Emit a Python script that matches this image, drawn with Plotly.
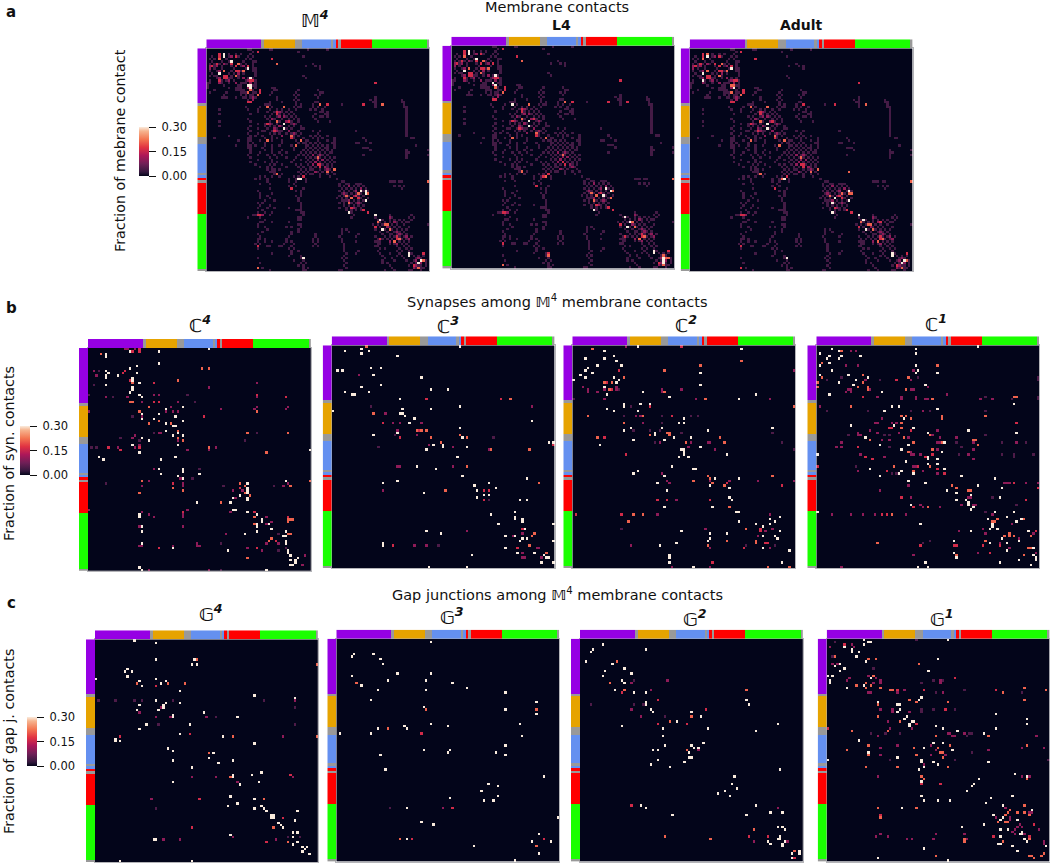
import plotly.graph_objects as go

W, H = 1050, 864
N = 93
FONT = "DejaVu Sans"

# cell values: (row, column) at each colour level
LEVELS = {"white": 0.30, "orange": 0.21, "red": 0.16, "mag": 0.10, "dark": 0.045, "faint": 0.038}

# group bars
GROUP_SIZES = [23, 1, 13, 3, 12, 1, 1, 1, 1, 13, 23, 1]
GROUP_IDS = [0, 4, 1, 4, 2, 4, 2, 3, 4, 3, 5, 4]
GROUP_COLORS = ["#9600E4", "#E6A300", "#6490F0", "#FF0000", "#999999", "#1AFF00"]

ROCKET = [[0, "#03051A"], [0.083, "#35193E"], [0.25, "#701F57"], [0.417, "#AD1759"],
          [0.583, "#E13342"], [0.75, "#F37651"], [0.917, "#F6B48F"], [1, "#FAEBDD"]]

# --- C4
C4_white = [(2,7),(3,7),(1,17),(1,29),(0,50),(6,29),(7,20),(8,17),(10,20),(9,7),(10,8),(11,7),(12,7),(11,12),
 (12,18),(13,18),(14,21),(15,7),(16,18),(17,18),(18,17),(19,21),(20,22),(25,32),(24,39),(27,22),(29,22),(27,29),(29,27),
 (28,36),(30,39),(31,32),(32,35),(32,36),(34,32),(35,37),(36,35),(36,39),(37,22),(38,25),(40,18),(43,21),(40,37),(45,4),
 (46,6),(45,36),(46,30),(50,39),(51,39),(50,29),(52,30),(53,37),(54,39),(52,46),(42,92),(55,82),(56,66),(58,66),(59,66),
 (60,66),(61,63),(62,60),(62,66),(63,66),(64,59),(67,60),(67,61),(68,66),(69,70),(71,72),(72,72),(73,75),(73,70),(74,70),
 (75,76),(76,70),(77,65),(76,82),(78,81),(78,82),(80,82),(81,82),(84,58),(84,83),(85,83),(86,84),(88,84),(87,87),(88,86),
 (89,86),(90,84),(90,85),(64,45),(69,21),(70,21),(74,22),(76,22),(81,22),(83,35),(91,21),(92,22),(92,74)]
C4_orange = [(2,5),(14,18),(13,37),(8,47),(8,50),(22,17),(22,18),(24,25),(26,21),(30,29),(31,25),(31,34),(34,37),(37,37),
 (38,39),(41,50),(35,66),(26,70),(43,74),(55,92),(57,84),(35,83),(55,22),(58,35),(59,39),(60,21),(64,55),(56,63),(57,65),
 (60,65),(61,67),(70,69),(73,69),(71,83),(71,84),(71,85),(72,83),(77,83),(77,84),(79,76),(80,75),(87,66)]
C4_red = [(1,21),(10,14),(9,15),(13,17),(14,27),(22,27),(22,29),(28,48),(41,21),(41,8),(42,13),(56,35),(58,63),(68,69),
 (70,83),(68,39),(20,82),(80,78),(83,29),(83,70),(19,70),(0,21),(1,18)]
C4_mag = [(9,2),(11,3),(20,7),(19,27),(19,29),(20,16),(22,22),(22,37),(24,34),(26,32),(26,35),(26,37),(28,22),(35,29),(35,30),
 (37,18),(36,19),(38,37),(41,19),(40,21),(42,41),(42,50),(41,53),(41,12),(50,27),(54,38),(55,25),(56,39),(57,39),(57,22),
 (14,70),(16,50),(20,70),(25,55),(24,70),(25,69),(25,82),(24,83),(56,83),(57,81),(59,64),(59,60),(62,61),(68,59),(70,74),
 (72,76),(73,74),(77,57),(81,74),(81,79),(83,66),(84,72),(86,90),(90,89),(68,22),(69,25),(70,27),(69,39),(70,39),(67,41),
 (67,0),(74,21),(74,39),(82,21),(82,22),(82,35),(81,45),(82,45),(82,46),(92,25),(92,50),(0,15),(0,16),(0,19),(26,0)]
C4_dark = [(9,4),(28,18),(20,10),(37,13),(38,21),(41,1),(41,3),(35,27),(50,46),(54,43),(56,7),(57,77),(57,56),(15,2),(19,0),
 (19,41),(22,44),(35,70),(38,65),(77,79),(81,55),(84,79),(83,82),(92,55)]

# --- C3
C3_white = [(2,5),(1,12),(3,12),(2,15),(4,27),(0,53),(10,2),(10,4),(9,16),(9,20),(12,17),(13,37),(16,20),(17,12),(19,5),(19,15),
 (20,8),(20,9),(18,41),(18,48),(22,28),(26,29),(26,41),(25,53),(28,28),(28,29),(29,30),(30,34),(31,83),(32,32),(36,27),
 (34,53),(37,17),(38,54),(41,46),(42,46),(41,42),(43,39),(42,56),(40,90),(40,92),(46,52),(50,35),(51,43),(54,54),(55,81),
 (57,21),(56,27),(61,38),(58,59),(57,65),(60,60),(59,68),(62,63),(62,65),(63,60),(64,78),(64,81),(69,76),(70,66),(71,76),
 (72,76),(72,79),(73,79),(74,69),(74,92),(76,80),(79,72),(79,76),(80,79),(80,81),(81,78),(81,92),(77,39),(78,45),(82,21),
 (83,21),(84,72),(86,77),(86,84),(87,58),(87,88),(88,89),(88,90),(90,87),(90,92),(92,40),(92,56),(27,0)]
C3_orange = [(0,14),(28,17),(35,35),(35,37),(35,39),(38,41),(37,53),(38,56),(40,45),(43,66),(43,82),(50,56),(60,47),(57,86),
 (78,84),(79,83),(83,82),(86,89),(22,74)]
C3_red = [(22,39),(22,70),(32,21),(35,36),(38,28),(41,92),(60,63),(60,65),(64,63),(76,79),(83,25),(84,77)]
C3_mag = [(12,11),(25,83),(28,22),(32,25),(32,28),(32,37),(35,27),(37,35),(41,40),(42,50),(43,65),(50,27),(50,28),(50,50),
 (60,21),(77,56),(78,79),(79,75),(83,34),(83,39),(84,85),(84,86),(86,79),(88,79),(88,80),(88,87)]
C3_dark = [(25,16),(37,26),(38,67),(42,19),(64,65),(83,44)]

# --- C2
C2_white = [(2,13),(0,27),(1,70),(5,5),(5,13),(4,17),(6,18),(8,10),(8,20),(9,6),(10,5),(11,8),(12,3),(13,5),(14,0),(11,53),(16,53),
 (13,17),(14,19),(15,18),(17,13),(20,14),(19,29),(21,40),(20,76),(24,21),(25,21),(24,28),(24,32),(26,14),(27,17),(27,27),
 (30,46),(32,44),(32,46),(34,24),(35,21),(34,37),(35,56),(34,83),(36,34),(37,34),(38,42),(38,49),(39,25),(39,38),(41,11),
 (42,53),(43,45),(43,46),(44,46),(45,46),(46,44),(46,48),(45,64),(50,41),(51,50),(51,51),(53,25),(52,27),(54,38),(57,35),
 (60,39),(55,59),(58,57),(59,65),(55,69),(67,38),(67,58),(63,65),(64,66),(69,68),(69,69),(73,69),(71,86),(72,82),(73,84),
 (74,82),(74,76),(75,79),(77,86),(77,45),(78,57),(80,57),(78,64),(81,56),(79,79),(79,84),(80,85),(82,43),(83,36),(84,79),
 (85,90),(87,40),(88,40),(90,40),(90,87),(92,50),(22,69)]
C2_orange = [(1,8),(6,70),(8,53),(10,38),(13,21),(15,13),(15,16),(18,15),(19,38),(22,55),(25,92),(29,6),(29,29),(32,21),(37,32),
 (36,39),(36,40),(37,40),(38,10),(38,61),(40,47),(40,63),(56,50),(54,56),(55,57),(57,58),(58,63),(54,83),(67,65),(70,25),
 (70,29),(73,23),(76,72),(81,64),(81,76),(82,76),(83,56),(92,81),(92,90)]
C2_red = [(10,19),(15,14),(18,16),(25,32),(29,41),(38,13),(45,22),(57,64),(58,87),(64,35),(64,39),(64,57),(70,1),(70,20),
 (76,78),(77,78),(82,80),(82,81),(84,71),(90,58),(0,45)]
C2_mag = [(0,22),(17,4),(18,6),(19,6),(19,10),(18,13),(17,18),(18,18),(18,37),(19,37),(18,45),(22,13),(22,51),(22,82),(29,26),
 (29,28),(32,29),(40,36),(40,49),(40,56),(40,57),(42,48),(43,59),(53,37),(56,39),(57,40),(56,57),(56,65),(56,77),(56,92),
 (64,43),(70,35),(70,82),(77,80),(76,83),(76,55),(79,77),(83,24),(84,57),(84,82),(92,41),(92,57),(10,92)]
C2_dark = [(18,19),(22,0),(25,24),(29,21),(29,37),(29,49),(29,52),(32,37),(35,25),(35,36),(35,32),(36,83),(36,45),(40,34),(40,87),
 (43,92),(76,20),(83,72),(83,84)]

# --- C1
C1_white = [(1,6),(3,1),(4,5),(5,4),(5,9),(4,10),(4,18),(1,41),(3,41),(0,67),(8,1),(7,5),(8,41),(10,6),(10,42),(11,41),(11,50),
 (12,1),(12,13),(13,21),(14,16),(15,9),(16,15),(16,45),(19,27),(20,5),(25,31),(25,34),(24,82),(27,28),(26,50),(30,36),
 (33,14),(33,32),(34,40),(35,63),(36,83),(36,46),(38,20),(41,26),(43,35),(41,38),(40,53),(44,52),(45,0),(46,46),(47,46),
 (47,50),(48,37),(49,46),(49,50),(51,22),(51,53),(53,34),(52,35),(54,26),(53,40),(54,60),(56,38),(57,45),(66,39),(55,74),
 (59,77),(58,67),(60,54),(61,58),(62,64),(64,58),(64,62),(65,63),(66,63),(67,65),(68,64),(63,76),(69,0),(69,74),(69,82),
 (74,43),(71,79),(72,71),(74,73),(75,73),(73,83),(72,85),(76,75),(76,72),(77,64),(77,88),(80,77),(81,84),(82,72),(82,79),
 (85,79),(84,90),(81,57),(86,57),(87,90),(88,91),(89,91),(88,58),(89,84),(90,76),(91,89),(90,45),(92,42),(92,46),(2,9)]
C1_orange = [(2,10),(7,2),(8,50),(13,2),(12,19),(15,19),(13,38),(15,0),(17,0),(17,17),(17,21),(18,21),(18,37),(22,48),(21,82),
 (21,83),(25,14),(29,70),(29,35),(29,37),(30,39),(29,52),(30,52),(32,35),(34,35),(39,22),(38,36),(37,47),(39,65),(39,66),
 (40,40),(40,52),(41,67),(43,48),(44,38),(50,47),(50,32),(52,40),(58,56),(59,58),(60,63),(60,64),(67,46),(70,31),(72,86),
 (73,73),(73,74),(72,75),(78,80),(79,80),(79,78),(79,82),(79,89),(81,70),(82,25),(84,88),(84,89),(87,58),(87,86)]
C1_red = [(14,33),(21,19),(34,30),(34,31),(35,39),(32,83),(42,17),(45,48),(46,20),(47,23),(50,0),(52,29),(50,42),(51,50),(53,53),
 (57,82),(59,92),(63,35),(67,40),(64,87),(70,27),(70,29),(77,91),(83,43),(83,57),(83,58),(83,76),(83,69),(86,72),(46,45)]
C1_mag = [(2,14),(2,16),(8,12),(8,17),(10,40),(14,20),(14,39),(17,46),(18,22),(18,39),(18,40),(19,12),(18,13),(18,14),(19,14),
 (21,25),(21,35),(22,35),(21,41),(22,41),(22,45),(22,46),(20,54),(22,68),(22,73),(25,1),(27,44),(30,27),(32,24),(32,25),
 (32,31),(32,33),(35,22),(36,25),(35,50),(36,17),(37,17),(37,18),(36,34),(38,38),(37,48),(38,51),(38,58),(39,27),(39,30),
 (40,10),(40,50),(40,51),(40,65),(40,83),(42,8),(42,10),(43,50),(43,65),(45,18),(46,28),(44,39),(45,39),(45,40),(45,43),
 (45,63),(47,65),(52,17),(50,40),(50,41),(52,44),(53,50),(58,38),(60,26),(63,39),(66,43),(67,44),(67,51),(57,78),(57,79),
 (57,80),(57,87),(57,92),(66,60),(63,63),(63,64),(66,65),(66,66),(70,6),(70,14),(70,19),(70,24),(70,37),(70,73),(74,81),
 (76,69),(78,70),(77,59),(78,90),(80,84),(82,76),(84,80),(86,91),(87,40),(86,67),(92,10)]
C1_dark = [(13,10),(14,4),(14,26),(13,42),(27,4),(27,21),(27,39),(27,47),(27,70),(37,13),(37,28),(37,30),(37,70),(21,70),(40,58),
 (42,30),(42,60),(40,77),(40,87),(45,59),(45,77),(45,82),(46,82),(45,90),(50,16),(53,31),(53,33),(63,73),(66,83),(69,70),
 (81,47),(82,44),(13,92),(14,92),(21,92),(22,92),(22,81)]

# --- G4
G4_white = [(0,16),(1,25),(8,25),(8,41),(10,40),(10,42),(12,13),(13,12),(13,15),(15,13),(16,0),(16,25),(17,18),(19,19),(18,27),(17,29),
 (21,35),(23,66),(24,83),(25,25),(26,35),(26,29),(27,28),(28,28),(27,18),(29,26),(29,17),(30,45),(31,32),(32,32),(32,59),
 (35,21),(35,39),(37,18),(39,35),(41,8),(42,8),(42,10),(40,53),(43,66),(45,30),(46,32),(47,49),(49,47),(50,32),(51,51),
 (50,57),(53,40),(56,65),(55,69),(56,57),(57,57),(59,32),(60,60),(59,68),(65,56),(66,66),(68,59),(69,55),(70,66),(69,69),
 (70,70),(71,71),(71,84),(73,73),(73,74),(74,73),(74,74),(75,83),(76,76),(77,77),(78,78),(80,82),(80,84),(81,56),(82,82),
 (83,24),(83,25),(84,84),(85,82),(86,86),(86,88),(87,87),(88,86),(89,89),(92,10),(92,40)]
G4_orange = [(8,42),(10,92),(18,17),(18,30),(18,37),(40,57),(40,92),(47,47),(57,56),(66,70),(78,74),(84,80)]
G4_red = [(19,25),(39,39),(40,10),(56,81),(66,43),(74,78),(78,40),(84,71)]
G4_mag = [(25,83),(28,27),(30,18),(32,25),(32,31),(32,46),(40,78),(57,40),(57,50),(57,82),(59,59),(66,23),(82,57),(83,28),(83,35),(83,75)]
G4_dark = [(25,1),(25,8),(25,16),(25,19),(25,32),(25,70),(28,83),(32,50),(35,26),(35,83),(70,25),(82,80),(82,85)]

# --- G3
G3_white = [(1,39),(6,7),(7,6),(6,15),(8,18),(10,19),(15,6),(14,25),(14,39),(19,10),(17,21),(17,37),(18,48),(21,17),(21,37),(20,54),
 (22,70),(25,14),(26,83),(28,36),(29,70),(31,83),(35,39),(36,46),(35,76),(36,28),(37,29),(37,17),(39,1),(39,14),(40,77),
 (44,70),(47,66),(48,70),(46,36),(46,47),(47,46),(48,18),(54,20),(57,86),(60,63),(61,67),(63,60),(65,67),(66,47),(67,61),
 (67,65),(70,29),(76,35),(77,40),(74,92),(81,84),(83,29),(84,81),(84,89),(86,57),(89,84),(92,74)]
G3_orange = [(18,8),(29,37),(29,83),(37,21),(83,26),(86,83)]
G3_red = [(39,35),(70,48),(83,31),(83,86)]
G3_mag = [(70,44)]
G3_dark = [(70,22)]

# --- G2
G2_white = [(2,9),(4,5),(5,4),(4,27),(9,2),(10,13),(12,18),(13,10),(14,21),(15,9),(17,17),(18,18),(21,14),(22,22),(22,27),(25,69),
 (27,70),(26,27),(27,27),(29,29),(30,30),(30,46),(32,50),(34,40),(36,17),(37,34),(37,53),(35,82),(38,73),(40,34),(43,51),
 (44,35),(44,46),(45,47),(45,49),(46,30),(46,32),(47,45),(49,45),(49,46),(50,32),(51,43),(52,29),(53,37),(54,83),(57,64),
 (60,63),(62,65),(63,60),(64,57),(65,62),(69,73),(69,25),(70,27),(72,79),(72,84),(73,38),(73,69),(78,82),(78,84),(79,85),
 (84,78),(85,79),(83,82),(82,83),(83,83),(84,85),(85,84),(86,84),(89,88),(88,91),(89,91),(91,88)]
G2_orange = [(9,15),(18,12),(21,18),(21,69),(32,46),(34,37),(46,44),(79,72),(82,35),(83,54),(88,89)]
G2_red = [(22,17),(25,32),(29,52),(35,32),(35,44),(69,21),(82,70),(82,78),(91,89)]
G2_mag = [(18,21),(17,36),(21,29),(29,21),(32,25),(46,49),(70,82),(84,72),(84,86)]
G2_dark = [(17,22),(27,4),(27,22),(27,26),(32,35)]

# --- G1
G1_white = [(0,15),(0,50),(1,17),(1,18),(3,7),(2,15),(4,10),(5,10),(5,13),(7,12),(9,16),(8,46),(10,5),(11,3),(12,7),(13,5),(13,42),(15,0),
 (15,2),(17,1),(18,1),(16,18),(19,15),(20,8),(24,39),(25,38),(26,21),(27,29),(27,30),(29,30),(30,29),(31,70),(32,33),(33,32),
 (33,83),(35,83),(34,35),(34,36),(35,34),(36,34),(36,45),(37,48),(37,70),(38,54),(39,65),(42,13),(43,44),(43,48),(46,52),(45,40),
 (47,17),(49,29),(50,39),(51,39),(50,0),(51,44),(52,46),(53,40),(54,38),(51,67),(59,39),(56,78),(57,83),(58,63),(60,61),(61,60),
 (63,58),(65,77),(65,39),(67,40),(67,46),(67,51),(66,68),(68,66),(69,73),(70,31),(71,85),(73,69),(74,73),(75,72),(75,79),(77,65),
 (78,56),(79,72),(79,75),(80,81),(81,80),(81,81),(82,72),(84,83),(83,82),(85,71),(85,72),(86,91),(86,77),(88,79),(87,40),(91,21),(92,50)]
G1_orange = [(7,3),(8,17),(8,20),(10,38),(15,19),(18,16),(19,12),(20,16),(19,18),(20,22),(21,26),(21,27),(22,73),(20,82),(21,91),(25,34),
 (26,37),(26,50),(25,82),(27,21),(32,21),(34,30),(38,10),(38,25),(40,67),(40,45),(44,51),(44,17),(44,83),(45,36),(45,46),(46,8),
 (47,47),(47,48),(48,17),(48,37),(49,48),(53,29),(53,16),(53,50),(57,39),(58,40),(58,83),(70,21),(70,37),(74,22),(69,82),(71,76),
 (72,75),(73,74),(72,79),(72,82),(73,84),(76,71),(76,74),(76,75),(83,57),(84,57),(83,84),(84,73),(89,90),(90,89),(90,84),(90,85),(91,86),(90,45)]
G1_red = [(2,7),(16,53),(21,29),(21,40),(21,70),(29,49),(35,37),(37,0),(60,39),(60,47),(73,22),(77,86),(82,69),(82,84)]
G1_mag = [(2,10),(3,11),(3,1),(10,2),(10,4),(16,9),(17,8),(15,17),(16,20),(18,19),(17,22),(18,22),(17,47),(18,47),(22,17),(22,18),
 (22,29),(21,32),(22,48),(29,22),(29,27),(30,27),(30,34),(34,25),(37,35),(37,26),(40,21),(39,50),(39,51),(40,52),(40,53),(39,57),
 (40,87),(44,29),(44,43),(45,22),(45,81),(45,90),(46,45),(46,67),(48,22),(48,43),(48,49),(52,40),(57,21),(57,81),(57,84),(70,74),
 (72,84),(72,85),(74,70),(74,76),(75,76),(77,80),(78,79),(78,81),(79,78),(79,88),(80,77),(81,78),(81,82),(81,57),(83,58),(84,90),
 (85,90),(82,20),(81,22),(82,25),(83,33),(83,35),(83,44),(81,45)]
G1_dark = [(0,37),(1,3),(7,2),(12,19),(18,39),(17,44),(17,48),(21,57),(22,45),(22,81),(29,39),(29,44),(29,53),(30,39),(39,18),(39,24),
 (39,30),(40,58),(39,59),(39,60),(47,60),(50,26),(50,53),(50,92)]

# --- membrane panels: faint background read row by row (row, columns)
M_faint = {0:[17,18,26,27,42,50],1:[19,38],2:[9,12,14,18],3:[2,9,13,17,19,40],4:[1,3,8,16,18],5:[2,6,9,15,19,20],
 6:[1,3,5,8,14,16,19,44],7:[1,3,6,10,14,19,41,45,47],8:[3,6,11,16,19,20,47],9:[1,4,10,14,19,20],10:[2,9,11,15,20],
 11:[1,3,4,10,13,20,40],12:[4,9,10,13,17,19,41],13:[1,6,8,11,16,20],14:[0,1,6,9,14,15,16,20],15:[0,7,13,14,19,20],
 16:[0,9,12,13,14,20,27,28],17:[3,12,13,14,15,19,28,29,38,46],18:[1,8,14,15,16,19,20,27,37,47,48],
 19:[7,14,16,18,19,26,36,38,45,47],20:[6,7,8,12,15,16,18,20,29,37,46,70],21:[17,19,29,36,38,68,70,81],
 22:[17,18,26,31,37,45,46,69,70,82,81],23:[24,25,26,37,39,44,47,56,70,82],24:[16,22,27,32,36,38,39,44,46,49,70,82,83],
 25:[5,17,21,26,29,31,34,37,43,45,48,83],26:[21,25,28,31,33,35,47,48,50,83],27:[5,18,27,30,32,34,36,45,49,50,83],
 28:[24,26,29,33,35,37,44,47,48,50,83],29:[17,25,28,31,34,36,38,45,83],30:[5,18,26,30,33,35,38,46,51,83],
 31:[21,24,27,29,32,35,37,83],32:[5,18,24,26,28,31,34,36,39,83],33:[17,21,25,29,33,35,39,40,83],
 34:[18,23,24,27,28,30,31,34,38,44,47,62,83],35:[17,21,26,28,30,33,35,37,39,46,83],
 36:[9,18,20,23,27,31,36,38,43,45,47,50,83],37:[3,17,18,24,27,29,36,40,44,46,48,53,65,85,86],
 38:[13,17,18,22,27,31,37,41,42,46,50,53,66],39:[17,19,24,31,38,40,41,43,45,47,52,53,62,63,68],
 40:[12,17,18,20,24,27,30,35,41,42,44,46,48,50,53,87],41:[17,18,23,27,36,41,43,45,47,49,50,53,65,66,67],
 42:[18,24,27,31,36,40,42,44,46,48,50,52,68,83,92],43:[18,22,27,30,33,39,41,43,45,47,49,51,52,83,84],
 44:[17,21,25,28,31,38,40,42,44,46,48,50,65,83,92],45:[18,26,29,33,37,41,43,45,47,49,51,53,83],
 46:[21,27,36,39,42,44,46,48,50,52],47:[18,24,27,29,35,41,43,45,47,49,51,53],48:[20,26,28,31,37,39,42,44,46,48,50,52],
 49:[22,25,27,33,38,40,43,45,47,50,52],50:[25,27,28,30,39,41,43,44,47,49,51],51:[26,27,28,38,40,42,45,46,48,52],
 52:[28,31,39,41,43,44,47,50,53],53:[22,24,27,30,36,38,47,51],54:[20,22,25,34,37,41,54],
 55:[25,34,37,41,56,57,76,77,78,80,81],56:[22,26,36,55,58,59,62,63,64],57:[34,37,55,57,59,61,63,65,78,80,82],
 58:[26,40,56,58,60,62,64,66,81],59:[21,37,39,55,57,59,61,65,67],60:[22,27,39,56,58,60,62,64,66],
 61:[22,25,37,39,55,57,59,61,63,65],62:[22,26,38,54,56,58,60,64,67],63:[24,28,38,56,57,58,61,63,65],
 64:[21,23,39,55,57,59,60,62,64],65:[22,26,39,57,59,61,63,65],66:[21,25,28,34,39,55,58,60,62,64],
 67:[23,37,38,39,58,60,62,64],68:[21,24,27,39,40,60],69:[19,20,23,26,40,61,76,85],70:[17,22,38,39,60,70,77,84,86],
 71:[24,38,39,71,73,76,78,80,82,85],72:[22,23,27,34,72,74,76,79,81,83,84],73:[21,38,39,69,71,73,77,79,82,92],
 74:[21,24,33,35,39,72,76,78,80,84],75:[25,38,56,58,70,74,77,79,81,83],76:[23,35,38,56,59,72,75,78,80,82],
 77:[21,35,45,56,63,73,76,77,79,81,83],78:[22,34,45,55,62,70,74,76,78,80,82,85],
 79:[21,22,24,33,44,46,56,71,73,75,77,79,81,83],80:[21,24,27,33,35,44,46,56,62,70,71,72,80,82,84],
 81:[20,22,32,36,45,57,71,72,76,78,81,83],82:[25,26,30,31,35,44,46,57,70,71,79,82,84],83:[21,34,36,57,72,74,80,83,85],
 84:[35,38,57,63,71,79,81,84],85:[27,35,58,62,72,76,80,85],86:[34,39,57,73,79,81,86,88,90],
 87:[21,39,56,58,74,77,82,87,89],88:[36,40,57,73,78,83,86,91],89:[22,39,41,58,73,75,85,87,91],
 90:[38,40,57,76,84,86,88,89,91],91:[23,40,42,58,77,87,89,90],92:[26,40,41,55,56,74,78,84,85,89]}

# brighter cells seen in all three membrane panels
M_mag = [(3,10),(7,1),(7,4),(8,1),(9,5),(6,7),(12,5),(14,5),(13,9),(12,15),(10,13),(7,15),(14,12),(16,17),(13,17),(14,18),(21,19),(20,19),
 (26,30),(28,30),(29,27),(28,32),(30,33),(31,36),(32,30),(33,28),(34,34),(35,36),(36,31),(34,29),(31,26),(44,44),(46,46),(47,45),(46,48),
 (48,44),(44,47),(49,49),(51,45),(50,50),(57,59),(59,62),(61,61),(62,63),(60,57),(64,63),(66,61),(63,59),(58,64),(70,76),(72,78),(74,75),
 (76,79),(77,80),(78,83),(79,84),(80,76),(80,78),(81,79),(87,88),(88,87),(89,89),(91,86),(90,87),(14,70),(82,21),(69,23)]

M4_white = [(2,7),(3,7),(5,10),(10,5),(8,17),(12,18),(15,18),(15,17),(16,18),(31,32),(33,32),(54,38),(54,39),(59,64),(59,66),(60,66),(63,66),
 (68,59),(69,70),(71,72),(75,73),(85,84),(86,84),(88,89),(89,88),(87,40)]
M4_orange = [(4,5),(9,7),(6,13),(11,12),(9,15),(17,18),(18,17),(19,21),(6,29),(24,25),(24,32),(30,29),(38,25),(36,35),(38,39),(40,37),(52,29),
 (45,46),(51,50),(50,53),(23,47),(23,73),(55,92),(61,58),(64,59),(62,60),(60,63),(60,67),(72,71),(73,74),(73,75),(75,76),(80,78),(79,80),
 (91,88),(88,90),(91,21)]
M4_red = [(2,5),(3,5),(6,10),(3,12),(7,2),(6,4),(7,12),(9,12),(9,13),(11,7),(11,8),(12,7),(12,8),(13,5),(7,17),(13,18),(13,19),(17,22),(18,22),
 (22,17),(22,18),(4,27),(1,21),(26,29),(27,29),(30,34),(31,25),(37,35),(34,28),(53,40),(58,35),(48,46),(49,47),(48,47),(23,50),(23,65),
 (61,62),(62,63),(66,60),(67,65),(68,67),(74,70),(79,72),(78,79),(79,79),(90,86),(85,90),(69,21),(69,22),(82,21),(14,70)]

L4_white = [(2,7),(3,7),(5,10),(10,5),(12,18),(15,17),(16,18),(24,25),(31,32),(33,32),(59,64),(60,66),(62,63),(68,59),(71,72),(75,73),(73,74),
 (85,84),(86,84),(88,88),(89,88),(90,88)]
L4_orange = [(4,5),(9,7),(6,13),(11,12),(9,15),(17,18),(19,21),(6,29),(24,32),(30,29),(38,25),(36,35),(38,39),(52,29),(54,39),(45,46),(23,47),
 (55,92),(61,58),(64,59),(62,60),(63,66),(60,67),(73,75),(75,76),(80,78),(79,80),(91,88),(88,90),(87,40),(91,21),(88,89),(87,88)]
L4_red = [(2,5),(3,5),(6,10),(3,12),(7,2),(6,4),(7,12),(9,12),(9,13),(11,7),(11,8),(12,7),(12,8),(13,5),(7,17),(13,18),(13,19),(17,22),(18,22),
 (22,17),(22,18),(4,27),(1,21),(26,29),(27,29),(30,34),(31,25),(37,35),(34,28),(53,40),(54,38),(58,35),(48,46),(49,47),(23,50),(23,65),
 (23,73),(61,62),(66,60),(67,65),(68,67),(74,70),(79,72),(78,79),(79,79),(90,86),(85,90),(69,21),(69,22),(82,21),(14,70),(86,40)]

Adult_white = [(3,7),(10,5),(13,5),(8,17),(16,18),(31,32),(33,32),(54,39),(59,66),(63,66),(62,60),(64,59),(68,59),(69,70),(71,72),(75,73),(85,84),
 (86,84),(88,89),(89,88),(87,40)]
Adult_orange = [(2,7),(4,5),(9,7),(6,13),(11,12),(9,15),(15,17),(15,18),(18,17),(19,21),(24,25),(24,32),(30,29),(38,25),(36,35),(38,39),(40,37),
 (52,29),(45,46),(51,50),(50,53),(23,73),(55,92),(61,58),(60,63),(60,66),(60,67),(51,66),(72,71),(73,74),(73,75),(75,76),(80,78),(79,80),
 (91,88),(88,90),(54,38)]
Adult_red = [(2,5),(3,5),(6,10),(3,12),(7,2),(6,4),(7,12),(9,12),(9,13),(11,7),(11,8),(12,7),(12,8),(7,17),(13,18),(13,19),(17,22),(18,22),
 (22,17),(22,18),(4,27),(1,21),(26,29),(27,29),(30,34),(31,25),(37,35),(34,28),(53,40),(58,35),(48,46),(49,47),(48,47),(23,47),(23,60),
 (61,62),(62,63),(66,60),(67,65),(68,67),(74,70),(72,79),(78,79),(79,79),(90,86),(85,90),(69,21),(69,22),(82,21),(14,70),(91,21)]

def grid(white=(), orange=(), red=(), mag=(), dark=(), faint=None):
    z = [[0.0] * N for _ in range(N)]
    if faint:
        for r, cols in faint.items():
            for c in cols:
                z[r][c] = LEVELS["faint"]
    for name, cells in (("dark", dark), ("mag", mag), ("red", red), ("orange", orange), ("white", white)):
        for r, c in cells:
            z[r][c] = LEVELS[name]
    return z

# name, left px, top px, title, title x px, title y px, title size
PANELS = [
 ("M4", 206.3, 48.3, grid(M4_white, M4_orange, M4_red, M_mag, faint=M_faint), "<b><i>𝕄<sup>4</sup></i></b>", 315, 19, 18),
 ("L4", 451.3, 45.7, grid(L4_white, L4_orange, L4_red, M_mag, faint=M_faint), "<b>L4</b>", 561, 25, 14),
 ("Adult", 689.7, 48.3, grid(Adult_white, Adult_orange, Adult_red, M_mag, faint=M_faint), "<b>Adult</b>", 801, 25, 14),
 ("C4", 88, 348, grid(C4_white, C4_orange, C4_red, C4_mag, C4_dark), "<b><i>ℂ<sup>4</sup></i></b>", 200, 324, 18),
 ("C3", 331.7, 345.3, grid(C3_white, C3_orange, C3_red, C3_mag, C3_dark), "<b><i>ℂ<sup>3</sup></i></b>", 448, 325, 18),
 ("C2", 572.3, 345.3, grid(C2_white, C2_orange, C2_red, C2_mag, C2_dark), "<b><i>ℂ<sup>2</sup></i></b>", 686, 324, 18),
 ("C1", 816.3, 345.3, grid(C1_white, C1_orange, C1_red, C1_mag, C1_dark), "<b><i>ℂ<sup>1</sup></i></b>", 936, 323, 18),
 ("G4", 95, 639.3, grid(G4_white, G4_orange, G4_red, G4_mag, G4_dark), "<b><i>𝔾<sup>4</sup></i></b>", 211, 613, 18),
 ("G3", 336.3, 638.7, grid(G3_white, G3_orange, G3_red, G3_mag, G3_dark), "<b><i>𝔾<sup>3</sup></i></b>", 452, 616, 18),
 ("G2", 580, 638.7, grid(G2_white, G2_orange, G2_red, G2_mag, G2_dark), "<b><i>𝔾<sup>2</sup></i></b>", 695, 618, 18),
 ("G1", 826.7, 638.7, grid(G1_white, G1_orange, G1_red, G1_mag, G1_dark), "<b><i>𝔾<sup>1</sup></i></b>", 942, 618, 18),
]
SIZE = 222.8
BAR = 9

COLORBARS = {"M4": (139, 127), "C4": (20, 426), "G4": (27, 717)}

group_index = []
for size, gid in zip(GROUP_SIZES, GROUP_IDS):
    group_index += [gid] * size
n_c = len(GROUP_COLORS)
group_scale = []
for i, col in enumerate(GROUP_COLORS):
    group_scale += [[i / n_c, col], [(i + 1) / n_c, col]]

fig = go.Figure()
layout = {}
axis_no = [0]

def add(z, x0, y0, x1, y1, frame=False, **kw):
    axis_no[0] += 1
    k = axis_no[0]
    s = "" if k == 1 else str(k)
    fig.add_trace(go.Heatmap(z=z, xaxis="x" + s, yaxis="y" + s, hoverinfo="skip", xgap=0, ygap=0, **kw))
    nx, ny = len(z[0]), len(z)
    common = dict(showticklabels=False, ticks="", showgrid=False, zeroline=False, fixedrange=True,
                  showline=frame, linecolor="#B4B4B8", linewidth=1, mirror=frame)
    layout["xaxis" + s] = dict(domain=[x0 / W, x1 / W], range=[-0.5, nx - 0.5], anchor="y" + s, **common)
    layout["yaxis" + s] = dict(domain=[1 - y1 / H, 1 - y0 / H], range=[ny - 0.5, -0.5], anchor="x" + s, **common)

annotations = []
def text(s, x, y, size=13, angle=0, color="#111111"):
    annotations.append(dict(text=s, x=x / W, y=1 - y / H, xref="paper", yref="paper", showarrow=False,
                            textangle=angle, font=dict(family=FONT, size=size, color=color),
                            xanchor="center", yanchor="middle"))

for name, left, top, z, title, tx, ty, tsize in PANELS:
    kw = dict(zmin=0, zmax=0.3, colorscale=ROCKET, showscale=False)
    if name in COLORBARS:
        cx, cy = COLORBARS[name]
        kw.update(showscale=True, colorbar=dict(
            x=cx / W, y=1 - cy / H, xanchor="left", yanchor="top", xref="paper", yref="paper", thickness=10, thicknessmode="pixels",
            len=49, lenmode="pixels", tickvals=[0, 0.15, 0.3], ticktext=["\u00a00.00", "\u00a00.15", "\u00a00.30"],
            ticks="outside", ticklen=7, tickwidth=1, tickcolor="#111111", outlinewidth=0, xpad=0, ypad=0,
            tickfont=dict(family=FONT, size=11.5, color="#111111")))
    add(z, left, top, left + SIZE, top + SIZE, frame=True, **kw)
    add([group_index], left, top - BAR, left + SIZE, top, zmin=0, zmax=n_c, colorscale=group_scale, showscale=False)
    add([[g] for g in group_index], left - BAR, top, left, top + SIZE, zmin=0, zmax=n_c, colorscale=group_scale, showscale=False)
    text(title, tx, ty, size=tsize)

text("<b>a</b>", 11, 12, 15)
text("<b>b</b>", 11, 308, 15)
text("<b>c</b>", 11, 603, 15)
text("Membrane contacts", 557, 7, 14.5)
text("Synapses among <b><i>𝕄</i></b><sup>4</sup> membrane contacts", 557, 301, 14.5)
text("Gap junctions among <b><i>𝕄</i></b><sup>4</sup> membrane contacts", 557, 594, 14.5)
text("Fraction of mebrane contact", 120, 151, 14.3, -90)
text("Fraction of syn. contacts", 9, 454, 14.3, -90)
text("Fraction of gap j. contacts", 9, 742, 14.3, -90)

fig.update_layout(width=W, height=H, margin=dict(l=0, r=0, t=0, b=0), autosize=False,
                  paper_bgcolor="white", plot_bgcolor="white", showlegend=False,
                  annotations=annotations, **layout)
fig.write_html("out.html", config={"displayModeBar": False},
               post_script="document.body.style.margin='0';document.body.style.overflow='hidden';")
